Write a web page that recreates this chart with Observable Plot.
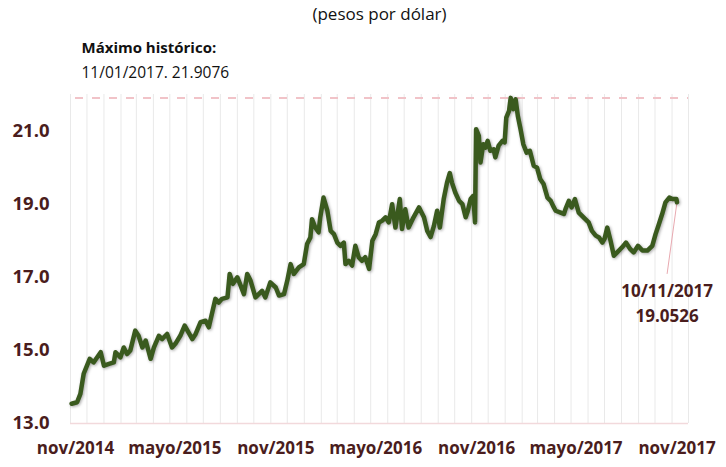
<!DOCTYPE html>
<html>
<head>
<meta charset="utf-8">
<script src="https://cdn.jsdelivr.net/npm/d3@7"></script>
<script src="https://cdn.jsdelivr.net/npm/@observablehq/plot@0.6"></script>
<style>
  html, body { margin: 0; padding: 0; background: #fff; }
  #chart { width: 726px; height: 467px; }
</style>
</head>
<body>
<div id="chart"></div>
<script>
const subtitle = "(pesos por dólar)";
const maxTitle = "Máximo histórico:";
const maxLabel = "11/01/2017. 21.9076";
const maxValue = 21.9076;
const lastLabel = "10/11/2017";
const lastValueLabel = "19.0526";

const dates = [
  "2014-11-03","2014-11-13","2014-11-19","2014-11-25","2014-12-06","2014-12-13","2014-12-26",
  "2015-01-01","2015-01-10","2015-01-19","2015-01-22","2015-01-31","2015-02-06","2015-02-12",
  "2015-02-18","2015-02-27","2015-03-05","2015-03-12","2015-03-18","2015-03-27","2015-04-02",
  "2015-04-11","2015-04-17","2015-04-26","2015-05-05","2015-05-11","2015-05-20","2015-05-28",
  "2015-06-11","2015-06-17","2015-06-26","2015-07-05","2015-07-11","2015-07-23","2015-07-29",
  "2015-08-04","2015-08-14","2015-08-18","2015-08-24","2015-09-01","2015-09-07","2015-09-13",
  "2015-09-19","2015-09-25","2015-10-04","2015-10-10","2015-10-16","2015-10-22","2015-10-31",
  "2015-11-10","2015-11-16","2015-11-25","2015-12-01","2015-12-07","2015-12-13","2015-12-22",
  "2015-12-31","2016-01-06","2016-01-12","2016-01-15","2016-01-21","2016-01-27","2016-01-30",
  "2016-02-05","2016-02-12","2016-02-18","2016-02-24","2016-03-01","2016-03-07","2016-03-13",
  "2016-03-16","2016-03-22","2016-03-28","2016-04-03","2016-04-09","2016-04-15","2016-04-21",
  "2016-04-28","2016-05-04","2016-05-10","2016-05-16","2016-05-22","2016-05-28","2016-06-03",
  "2016-06-09","2016-06-15","2016-06-23","2016-06-27","2016-07-03","2016-07-09","2016-07-18",
  "2016-07-28","2016-08-06","2016-08-12","2016-08-18","2016-08-24","2016-08-30","2016-09-04",
  "2016-09-11","2016-09-17","2016-09-22","2016-09-26","2016-10-02","2016-10-09","2016-10-15",
  "2016-10-21","2016-10-25","2016-10-30","2016-11-04","2016-11-07","2016-11-09","2016-11-14",
  "2016-11-17","2016-11-22","2016-11-26","2016-11-30","2016-12-05","2016-12-11","2016-12-14",
  "2016-12-20","2016-12-27","2016-12-31","2017-01-03","2017-01-08","2017-01-11","2017-01-16",
  "2017-01-20","2017-01-24","2017-01-29","2017-02-03","2017-02-09","2017-02-15","2017-02-22",
  "2017-02-28","2017-03-06","2017-03-12","2017-03-19","2017-03-25","2017-03-29","2017-04-03",
  "2017-04-12","2017-04-18","2017-04-21","2017-04-27","2017-05-02","2017-05-08","2017-05-15",
  "2017-05-21","2017-05-27","2017-06-02","2017-06-08","2017-06-15","2017-06-21","2017-06-27",
  "2017-07-01","2017-07-06","2017-07-12","2017-07-18","2017-07-24","2017-08-02","2017-08-09",
  "2017-08-17","2017-08-23","2017-08-31","2017-09-08","2017-09-17","2017-09-26","2017-10-02",
  "2017-10-08","2017-10-14","2017-10-20","2017-10-27","2017-11-02","2017-11-09","2017-11-10"
];
const values = [
  13.54,13.58,13.81,14.36,14.77,14.67,14.95,
  14.58,14.63,14.67,14.95,14.81,15.08,14.90,
  15.00,15.54,15.40,15.08,15.27,14.77,15.08,
  15.40,15.31,15.45,15.08,15.18,15.40,15.68,
  15.31,15.45,15.77,15.81,15.63,16.41,16.31,
  16.41,16.45,17.09,16.82,17.00,16.77,16.54,
  17.09,16.91,16.45,16.54,16.63,16.45,16.86,
  16.72,16.50,16.54,16.91,17.36,17.09,17.27,
  17.36,17.91,18.09,18.59,18.36,18.23,18.64,
  19.18,18.82,18.27,18.18,17.95,17.86,17.95,
  17.36,17.45,17.32,17.86,17.55,17.45,17.55,
  17.23,18.00,18.18,18.50,18.55,18.64,18.50,
  19.00,18.36,19.14,18.32,18.86,18.36,18.64,
  18.91,18.64,18.27,18.10,18.40,18.82,18.36,
  19.14,19.59,19.85,19.59,19.32,19.09,19.00,
  18.64,18.82,19.14,19.23,18.50,21.05,20.87,
  20.14,20.64,20.55,20.73,20.46,20.50,20.28,
  20.60,20.73,20.69,21.37,21.55,21.9076,21.60,
  21.87,21.42,21.05,20.64,20.41,20.46,20.05,
  20.00,19.68,19.55,19.18,19.09,18.96,18.82,
  18.77,18.73,18.87,19.09,18.91,19.14,18.77,
  18.68,18.59,18.50,18.27,18.14,18.09,17.95,
  18.05,18.36,18.00,17.59,17.68,17.82,17.95,
  17.77,17.68,17.86,17.73,17.73,17.86,18.18,
  18.45,18.73,19.05,19.18,19.14,19.14,19.0526
];

const xTickDates = ["2014-11-01","2015-05-01","2015-11-01","2016-05-01","2016-11-01","2017-05-01","2017-11-01"];
const xTickLabels = ["nov/2014","mayo/2015","nov/2015","mayo/2016","nov/2016","mayo/2017","nov/2017"];
const yTicks = [13, 15, 17, 19, 21];

const parse = d3.utcParse("%Y-%m-%d");
const data = dates.map((d, i) => ({date: parse(d), value: values[i]}));
const tickDates = xTickDates.map(parse);
const labelOf = new Map(tickDates.map((d, i) => [+d, xTickLabels[i]]));
const last = data[data.length - 1];
const leaderEnd = {date: d3.utcDay.offset(last.date, -18), value: last.value - 1.96};

const textColor = "#4a1d1d";
const font = "'Open Sans', 'Noto Sans', sans-serif";

const chart = Plot.plot({
  width: 726,
  height: 467,
  marginTop: 94,
  marginBottom: 44,
  marginLeft: 70,
  marginRight: 38,
  style: {fontFamily: font, background: "#fff"},
  x: {type: "utc", domain: [parse("2014-11-01"), parse("2017-12-01")]},
  y: {domain: [13, 22]},
  marks: [
    Plot.gridX({ticks: "month", stroke: "#e9e9e9", strokeOpacity: 1, strokeWidth: 1}),
    Plot.ruleY([13], {stroke: "#f2d9dc", strokeWidth: 1.5}),
    Plot.ruleY([maxValue], {stroke: "#f1c3c8", strokeWidth: 2, strokeDasharray: "8,9", insetLeft: 5}),
    Plot.axisY({ticks: yTicks, tickFormat: d => d.toFixed(1), tickSize: 0, tickPadding: 21,
      fontSize: 18.5, fontWeight: "bold", fill: textColor, label: null}),
    Plot.axisX({ticks: tickDates, tickFormat: d => labelOf.get(+d), tickSize: 0, tickPadding: 18,
      fontSize: 17, fontWeight: "bold", fill: textColor, dx: 5, label: null}),
    Plot.link([last], {x1: "date", y1: "value", x2: () => leaderEnd.date, y2: () => leaderEnd.value,
      stroke: "#e8a9b0", strokeWidth: 1}),
    Plot.line(data, {x: "date", y: "value", stroke: "#3a5a1e", strokeWidth: 4.5,
      strokeLinejoin: "round", curve: "linear",
      imageFilter: "drop-shadow(1px 1px 1.5px rgba(0,0,0,0.35))"}),
    Plot.text([leaderEnd], {x: "date", y: "value", text: () => lastLabel + "\n" + lastValueLabel,
      lineAnchor: "top", dy: 6, lineHeight: 1.45, fontSize: 17, fontWeight: "bold", fill: textColor}),
    Plot.text([subtitle], {frameAnchor: "top", dy: -87, lineAnchor: "top", fontSize: 17, fill: "#111"}),
    Plot.text([maxTitle], {frameAnchor: "top-left", textAnchor: "start", dx: 11, dy: -52,
      lineAnchor: "top", fontSize: 15, fontWeight: "bold", fill: "#111"}),
    Plot.text([maxLabel], {frameAnchor: "top-left", textAnchor: "start", dx: 11, dy: -28,
      lineAnchor: "top", fontSize: 15.5, fill: "#111"})
  ]
});
document.getElementById("chart").appendChild(chart);
</script>
</body>
</html>
